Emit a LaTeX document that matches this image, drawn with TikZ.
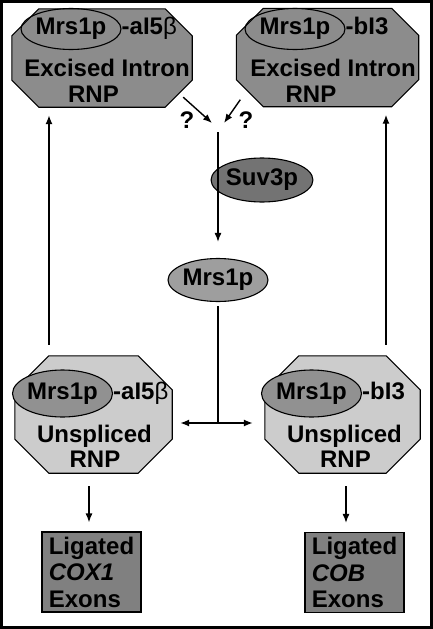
\documentclass[tikz,border=0pt]{standalone}
\usepackage{fontspec}
\setmainfont{Liberation Sans}
\usetikzlibrary{arrows.meta}
\usetikzlibrary{shapes.geometric}
\usetikzlibrary{calc}

\definecolor{exgray}{gray}{0.55}
\definecolor{ungray}{gray}{0.80}
\definecolor{emgray}{gray}{0.57}
\definecolor{mrsgray}{gray}{0.62}
\definecolor{suvgray}{gray}{0.45}
\definecolor{boxgray}{gray}{0.50}

\newcommand{\octagon}[3]{%
  \draw[line width=1.1pt, fill=#3] ([xshift=#2]#1.north west) -- ([xshift=-#2]#1.north east)
    -- ([yshift=-#2]#1.north east) -- ([yshift=#2]#1.south east) -- ([xshift=-#2]#1.south east)
    -- ([xshift=#2]#1.south west) -- ([yshift=#2]#1.south west) -- ([yshift=-#2]#1.north west) -- cycle;}

\tikzset{
  arrtip/.tip={Latex[length=9pt,width=7pt]},
  txt/.style={font=\fontsize{24}{26}\selectfont\bfseries, inner sep=0pt},
  arr/.style={-arrtip, line width=1.4pt},
  octo/.style={rectangle, inner sep=0pt},
  prot/.style={ellipse, draw, line width=1.1pt, inner sep=0pt, font=\fontsize{24}{26}\selectfont\bfseries},
  exonbox/.style={rectangle, draw, line width=1.1pt, fill=boxgray, minimum width=99pt, minimum height=80pt, align=left, font=\fontsize{24}{26.5}\selectfont\bfseries}
}

\begin{document}
\begin{tikzpicture}[x=1pt,y=-1pt]
\useasboundingbox (0,0) rectangle (433,629);
\draw[line width=3pt] (1.5,1.5) rectangle (431.5,627.5);

\node[octo, minimum width=180pt, minimum height=98pt] (exA) at (102,58) {};
\node[octo, minimum width=182pt, minimum height=98pt] (exB) at (327.5,57.5) {};
\octagon{exA}{27pt}{exgray}
\octagon{exB}{27pt}{exgray}
\node[prot, minimum width=95pt, minimum height=41pt] (mrsA) at (71,29) {Mrs1p};
\node[prot, minimum width=94pt, minimum height=41pt] (mrsB) at (295,29) {Mrs1p};
\node[txt, anchor=base west] (tagA) at (mrsA.east |- mrsA.base) {-aI5{\mdseries β}};
\node[txt, anchor=base west] (tagB) at (mrsB.east |- mrsB.base) {-bI3};
\node[txt, anchor=base] (exA1) at (107,76) {Excised Intron};
\node[txt, anchor=base] (exA2) at (93.5,102) {RNP};
\node[txt, anchor=base] (exB1) at (333,76) {Excised Intron};
\node[txt, anchor=base] (exB2) at (311,102) {RNP};

\node[txt] (qA) at (187,120) {?};
\node[txt] (qB) at (246,120) {?};
\coordinate (tipA) at (212,123);
\coordinate (tipB) at (224,123);
\coordinate (topJ) at (218,132);
\coordinate (midJ) at (218,423);
\coordinate (colL) at (49,0);
\coordinate (colR) at (386,0);
\coordinate (colDL) at (89,0);
\coordinate (colDR) at (346,0);

\node[prot, fill=suvgray, minimum width=86pt, minimum height=44pt] (suv) at (262,180) {Suv3p};
\node[prot, fill=mrsgray, minimum width=93pt, minimum height=43pt] (mrs) at (218,280) {Mrs1p};

\node[octo, minimum width=157pt, minimum height=117pt] (unA) at (93.5,414.5) {};
\node[octo, minimum width=155pt, minimum height=117pt] (unB) at (342.5,414.5) {};
\octagon{unA}{34pt}{ungray}
\octagon{unB}{34pt}{ungray}
\node[prot, fill=emgray, minimum width=95pt, minimum height=47pt] (emA) at (62.5,393.5) {Mrs1p};
\node[prot, fill=emgray, minimum width=93pt, minimum height=47pt] (emB) at (311.5,393.5) {Mrs1p};
\node[txt, anchor=base west] (tagC) at (emA.east |- emA.base) {-aI5{\mdseries β}};
\node[txt, anchor=base west] (tagD) at (emB.east |- emB.base) {-bI3};
\node[txt, anchor=base] (unA1) at (94.5,442) {Unspliced};
\node[txt, anchor=base] (unA2) at (95,467) {RNP};
\node[txt, anchor=base] (unB1) at (344.5,442) {Unspliced};
\node[txt, anchor=base] (unB2) at (345.5,467) {RNP};

\node[exonbox] (ligA) at (91.5,572) {Ligated\\\textit{COX1}\\Exons};
\node[exonbox] (ligB) at (354.5,572.5) {Ligated\\\textit{COB}\\Exons};

\draw[arr] ($(exA.south east)+(-9,-10)$) -- (tipA);
\draw[arr] ($(exB.south west)+(4,-7)$) -- (tipB);
\draw[arr, shorten >=16pt] (topJ) -- (mrs.north);
\draw[line width=1.4pt, shorten <=4pt] (mrs.south) -- (midJ);
\draw[arrtip-arrtip, line width=1.4pt, shorten <=8pt, shorten >=12pt] (unA.east |- midJ) -- (unB.west |- midJ);
\draw[arr, shorten <=11pt, shorten >=8pt] (unA.north -| colL) -- (exA.south -| colL);
\draw[arr, shorten <=11pt, shorten >=8pt] (unB.north -| colR) -- (exB.south -| colR);
\draw[arr, shorten <=13pt, shorten >=9pt] (unA.south -| colDL) -- (ligA.north -| colDL);
\draw[arr, shorten <=13pt, shorten >=9pt] (unB.south -| colDR) -- (ligB.north -| colDR);
\end{tikzpicture}
\end{document}
